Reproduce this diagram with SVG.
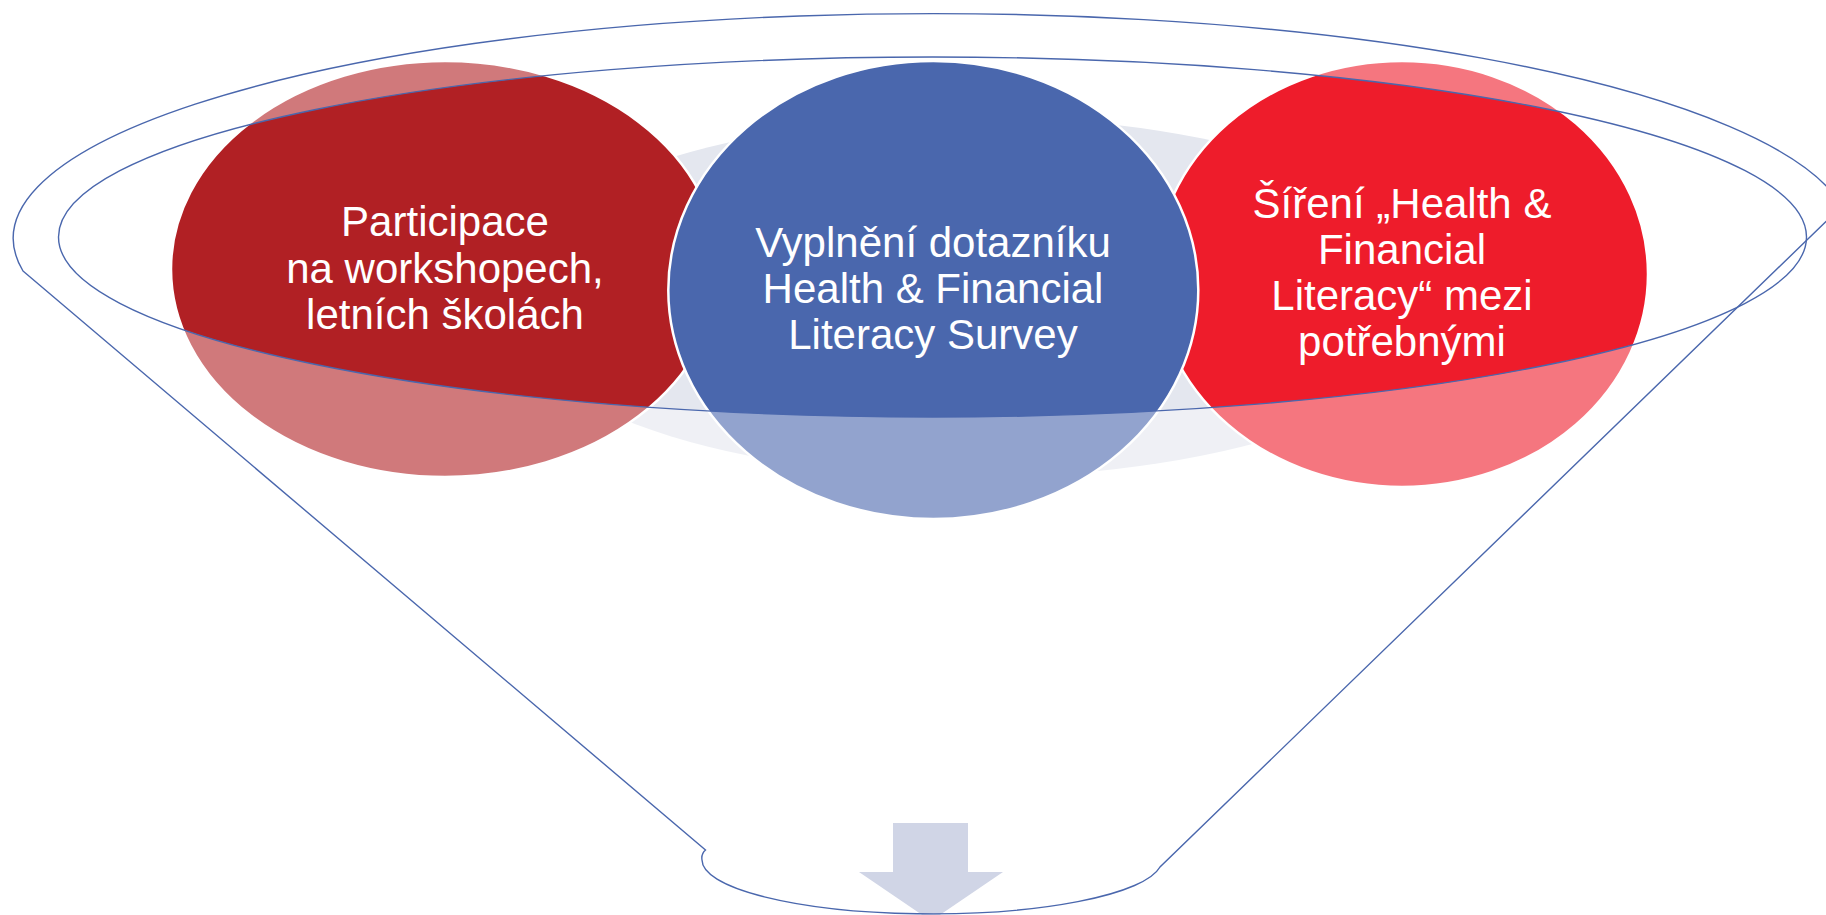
<svg xmlns="http://www.w3.org/2000/svg" width="1826" height="915" viewBox="0 0 1826 915">
  <style>
    .lbl { font-family: "Liberation Sans", Arial, sans-serif; font-size: 42px; fill: #FFFFFF; text-anchor: middle; }
    .circle { stroke: #FFFFFF; stroke-width: 2.5; }
    .outline { fill: none; stroke: #4A67AD; stroke-width: 1.4; }
  </style>
  <rect x="0" y="0" width="1826" height="915" fill="#FFFFFF"/>

  <!-- background disc behind circles -->
  <ellipse id="backdrop" cx="975" cy="297" rx="480" ry="180" fill="#E4E7EF"/>

  <g id="node-participace">
    <ellipse class="circle" cx="445" cy="269" rx="274" ry="208" fill="#B12024"/>
  </g>
  <g id="node-sireni">
    <ellipse class="circle" cx="1402" cy="274" rx="246" ry="213" fill="#EE1C2B"/>
  </g>
  <g id="node-vyplneni">
    <ellipse class="circle" cx="933.3" cy="290" rx="265" ry="229" fill="#4A67AD"/>
  </g>

  <!-- funnel body: translucent white outside the mouth -->
  <path id="funnel-body" fill="#FFFFFF" fill-opacity="0.4" fill-rule="evenodd"
        d="M 23 271 L 705.5 850 Q 701 854 702 860 A 230 54 0 0 0 1160 867 L 1842 206 A 918 224.5 0 1 0 23 271 Z
           M 58.5 237 A 874 180 0 1 0 1806.5 237 A 874 180 0 1 0 58.5 237 Z"/>

  <g id="arrow">
    <path d="M 893 823 H 968 V 872 H 1003 L 931 921 L 859 872 H 893 Z" fill="#D0D5E6"/>
  </g>

  <g id="connectors">
    <path class="outline" d="M 23 271 L 705.5 850 Q 701 854 702 860 A 230 54 0 0 0 1160 867 L 1842 206 A 918 224.5 0 1 0 23 271 Z"/>
    <ellipse class="outline" cx="932.5" cy="237" rx="874" ry="180"/>
  </g>

  <g id="labels">
    <text class="lbl" x="445" y="236">Participace</text>
    <text class="lbl" x="445" y="282.5">na workshopech,</text>
    <text class="lbl" x="445" y="328.5">letních školách</text>

    <text class="lbl" x="933" y="257">Vyplnění dotazníku</text>
    <text class="lbl" x="933" y="303">Health &amp; Financial</text>
    <text class="lbl" x="933" y="349">Literacy Survey</text>

    <text class="lbl" x="1402" y="218">Šíření „Health &amp;</text>
    <text class="lbl" x="1402" y="264">Financial</text>
    <text class="lbl" x="1402" y="310">Literacy“ mezi</text>
    <text class="lbl" x="1402" y="356">potřebnými</text>
  </g>
</svg>
